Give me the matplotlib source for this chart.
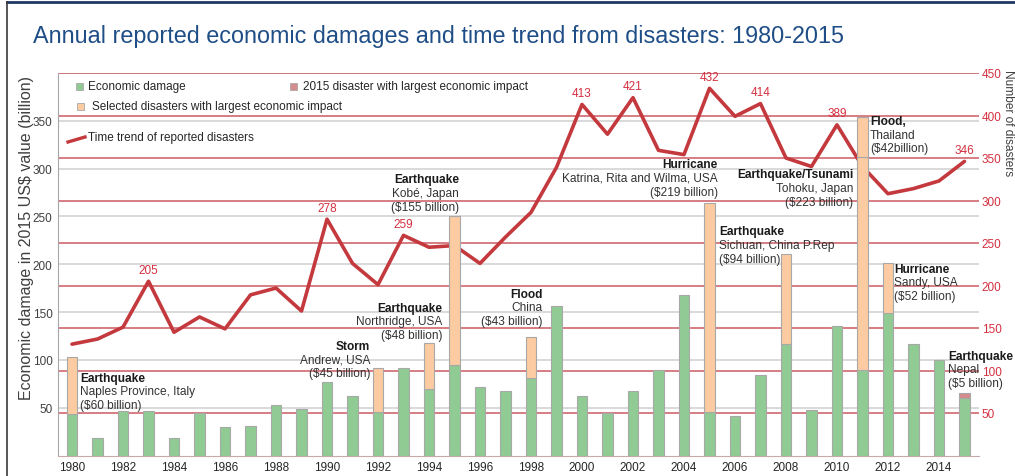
import matplotlib
matplotlib.use("Agg")
import matplotlib.pyplot as plt
from matplotlib.lines import Line2D
from matplotlib.patches import Rectangle

plt.rcParams["font.family"] = ["Liberation Sans", "DejaVu Sans"]

years = list(range(1980, 2016))

# economic damage per year, US$ billion (2015 value), without the highlighted events
damage = [43, 18.5, 46.5, 47, 18.5, 44, 30, 31, 53, 49,
          77, 62, 46, 92, 70, 95, 72, 67, 81, 156,
          62, 44, 67, 89, 168, 45, 41, 84, 117, 48,
          135, 89, 149, 117, 100, 60]

# reported disasters per year
disasters = [131, 137, 151, 205, 145, 163, 149, 189, 197, 170,
             278, 226, 201, 259, 245, 247, 226, 257, 286, 339,
             413, 378, 421, 359, 354, 432, 399, 414, 350, 340,
             389, 340, 308, 314, 323, 346]
labelled_years = [1983, 1990, 1993, 2000, 2002, 2005, 2007, 2010, 2015]

# selected disasters with largest economic impact
event_years = [1980, 1992, 1994, 1995, 1998, 2005, 2008, 2011, 2011, 2012]
event_damage = [60, 45, 48, 155, 43, 219, 94, 223, 42, 52]
event_types = ["Earthquake", "Storm", "Earthquake", "Earthquake", "Flood",
               "Hurricane", "Earthquake", "Earthquake/Tsunami", "Flood,", "Hurricane"]
event_places = ["Naples Province, Italy", "Andrew, USA", "Northridge, USA",
                "Kobé, Japan", "China", "Katrina, Rita and Wilma, USA",
                "Sichuan, China P.Rep", "Tohoku, Japan", "Thailand", "Sandy, USA"]
event_amounts = ["($60 billion)", "($45 billion)", "($48 billion)", "($155 billion)",
                 "($43 billion)", "($219 billion)", "($94 billion)", "($223 billion)",
                 "($42billion)", "($52 billion)"]
# where each caption sits (year, billion, alignment)
event_label_pos = [(1980.31, 81.2, "left"), (1991.69, 114.8, "right"),
                   (1994.51, 154.6, "right"), (1995.18, 288.8, "right"),
                   (1998.47, 169.3, "right"), (2005.33, 304.5, "right"),
                   (2005.37, 234.3, "left"), (2010.63, 294.0, "right"),
                   (2011.29, 349.6, "left"), (2012.24, 195.5, "left")]

# largest 2015 disaster
y2015_year = 2015
y2015_damage = 5
y2015_label = ("Earthquake", "Nepal", "($5 billion)")
y2015_label_pos = (2014.35, 104.3, "left")

GREEN = "#8fcb93"
ORANGE = "#fccba1"
PINK = "#d48c8c"
EDGE = "#a8a8a8"
LINE = "#c4393d"
RED_GRID = "#cc5a62"
RED_TEXT = "#d3303f"
GREY_TEXT = "#404040"

W, H = 1015, 477
fig = plt.figure(figsize=(W / 100, H / 100), dpi=100)
ax = fig.add_axes([58 / W, 1 - 456.5 / H, (979 - 58) / W, (456.5 - 74) / H])
ax2 = ax.twinx()

# trend line on the right-hand scale (drawn underneath the bars)
ax.plot(years, disasters, color=LINE, lw=2.6, solid_capstyle="round", zorder=2)
for yr in labelled_years:
    v = disasters[years.index(yr)]
    ax.annotate(str(v), (yr, v), xytext=(0, 4), textcoords="offset points",
                ha="center", va="bottom", fontsize=8.5, color=RED_TEXT, zorder=3)

ax.set_ylim(0, 450)
ax.set_xlim(1979.45, 2015.57)
ax.yaxis.tick_right()
ax.set_yticks(range(50, 451, 50))
ax.grid(axis="y", color=RED_GRID, lw=1.1)
ax.set_axisbelow(True)
ax.set_xticks(range(1980, 2015, 2))
ax.tick_params(axis="x", length=0, pad=4, labelsize=8.5, labelcolor="#262626")
ax.tick_params(axis="y", length=0, pad=2, labelsize=8.5, labelcolor=RED_TEXT)
for s in ["top", "right"]:
    ax.spines[s].set_visible(False)
ax.spines["left"].set_color("#a6a6a6")
ax.spines["bottom"].set_color("#c8a8a8")

# bars on the left-hand scale
ax2.set_ylim(0, 400)
ax2.yaxis.tick_left()
ax2.set_yticks(range(50, 351, 50))
ax2.tick_params(axis="y", length=0, pad=4, labelsize=8.5, labelcolor=GREY_TEXT)
for s in ax2.spines.values():
    s.set_visible(False)
for v in range(50, 401, 50):
    ax.add_line(Line2D([0, 1], [v, v], transform=ax2.get_yaxis_transform(),
                       color="#d9d9d9", lw=1.4, zorder=0.4))

ax2.bar(years, damage, width=0.42, color=GREEN, edgecolor=EDGE, lw=0.8)
stack = dict(zip(years, damage))
for yr, val in zip(event_years, event_damage):
    ax2.bar(yr, val, bottom=stack[yr], width=0.42, color=ORANGE, edgecolor=EDGE, lw=0.8)
    stack[yr] += val
ax2.bar(y2015_year, y2015_damage, bottom=stack[y2015_year], width=0.42,
        color=PINK, edgecolor=EDGE, lw=0.8)


def caption(x, y, ha, lines):
    for i, txt in enumerate(lines):
        ax2.annotate(txt, (x, y), xytext=(0, -9.8 * i), textcoords="offset points",
                     ha=ha, va="center", fontsize=8.6,
                     fontweight="bold" if i == 0 else "normal",
                     color="#1a1a1a" if i == 0 else "#333333", zorder=5)


for pos, t, p, a in zip(event_label_pos, event_types, event_places, event_amounts):
    caption(pos[0], pos[1], pos[2], [t, p, a])
caption(*y2015_label_pos, y2015_label)


def px(x, y):
    return x / W, 1 - y / H


# legend
legend_boxes = [((76, 83.5), GREEN, (88, 87), "Economic damage"),
                ((290, 83.5), PINK, (303, 87), "2015 disaster with largest economic impact"),
                ((77, 103.5), ORANGE, (91.5, 107), "Selected disasters with largest economic impact")]
for (bx, by), col, (tx, ty), label in legend_boxes:
    x0, y0 = px(bx, by + 7)
    fig.add_artist(Rectangle((x0, y0), 7 / W, 7 / H, transform=fig.transFigure,
                             facecolor=col, edgecolor=EDGE, lw=0.6))
    fig.text(*px(tx, ty), label, fontsize=8.5, color="#262626", va="center")
fig.add_artist(Line2D([68 / W, 85 / W], [1 - 143 / H, 1 - 138 / H],
                      transform=fig.transFigure, color=LINE, lw=2.4))
fig.text(*px(88, 138.5), "Time trend of reported disasters", fontsize=8.5,
         color="#262626", va="center")

# axis titles
fig.text(*px(27, 238), "Economic damage in 2015 US$ value (billion)", rotation=90,
         ha="center", va="center", fontsize=11.5, color=GREY_TEXT)
fig.text(*px(1008, 123), "Number of disasters", rotation=270,
         ha="center", va="center", fontsize=8.6, color=GREY_TEXT)

# heading and frame
fig.text(*px(33, 43.5), "Annual reported economic damages and time trend from disasters: 1980-2015",
         fontsize=16.8, color="#1f4e87", va="baseline")
fig.add_artist(Line2D([7 / W, 1], [1 - 3 / H, 1 - 3 / H], transform=fig.transFigure,
                      color="#1f3864", lw=2))
fig.add_artist(Line2D([7 / W, 7 / W], [0, 1 - 3 / H], transform=fig.transFigure,
                      color="#3a3a3a", lw=1.2))

fig.savefig("out.png", dpi=100)
